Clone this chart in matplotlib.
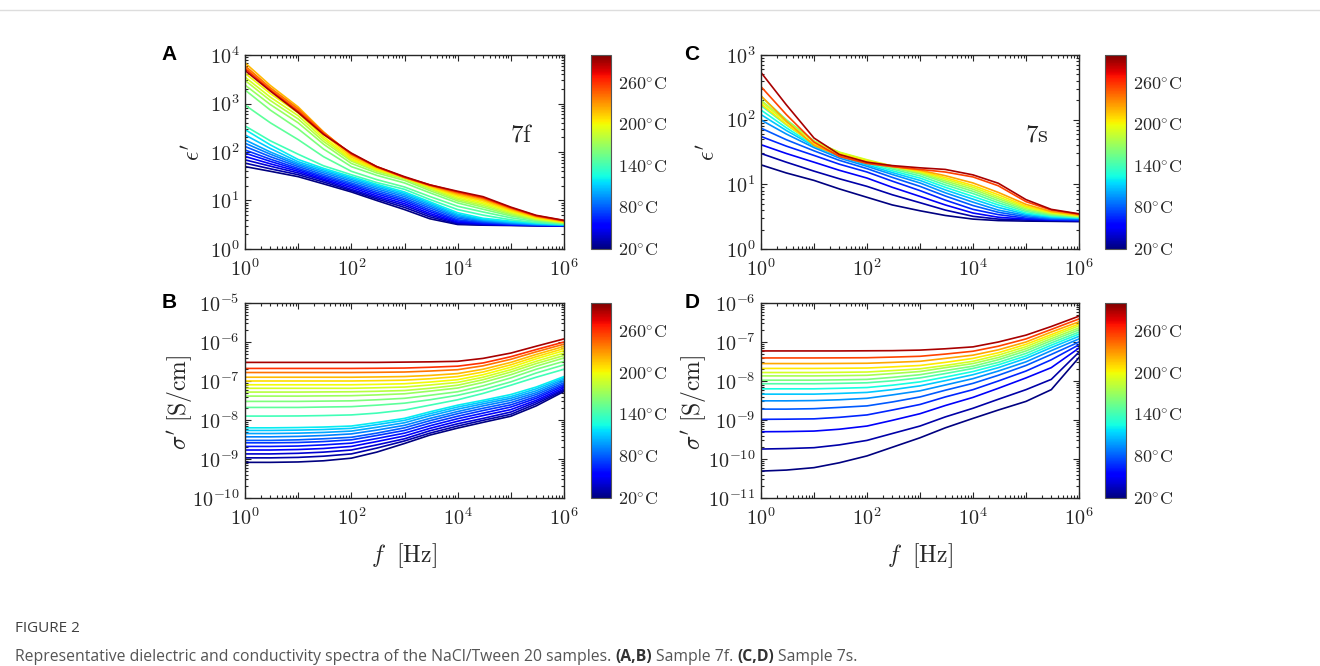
import numpy as np
import matplotlib
matplotlib.use('Agg')
import matplotlib.pyplot as plt
from matplotlib import colors
from matplotlib.ticker import FixedLocator, FixedFormatter, LogLocator, NullFormatter

plt.rcParams['mathtext.fontset'] = 'cm'
plt.rcParams['font.family'] = 'DejaVu Serif'

freq = [1, 3, 10, 30, 100, 300, 1e3, 3e3, 1e4, 3e4, 1e5, 3e5, 1e6]

# ---- sample 7f ----
temps_7f = [20, 30, 40, 50, 60, 70, 80, 90, 100, 110, 120,
            140, 150, 160, 170, 180, 190, 200, 210, 220, 240, 260, 290]

eps_7f = [
    [50, 40, 31, 22, 15, 10, 6.5, 4.2, 3.2, 3.1, 3.05, 3.0, 3.0],
    [59, 45, 34, 24, 16, 10.8, 7.2, 4.6, 3.3, 3.15, 3.1, 3.05, 3.0],
    [69, 51, 37, 26, 17, 11.6, 7.9, 5.0, 3.45, 3.2, 3.1, 3.05, 3.0],
    [81, 57, 40, 27.5, 18.5, 12.5, 8.6, 5.4, 3.6, 3.3, 3.15, 3.07, 3.02],
    [95, 64, 43, 29.5, 20, 13.6, 9.4, 5.9, 3.8, 3.4, 3.2, 3.1, 3.04],
    [110, 71, 46, 31.5, 21.5, 14.7, 10.2, 6.4, 4.0, 3.5, 3.25, 3.12, 3.06],
    [130, 80, 50, 34, 23, 16, 11, 7.0, 4.3, 3.65, 3.3, 3.15, 3.08],
    [152, 90, 54, 37, 25, 17.4, 12, 7.6, 4.6, 3.8, 3.4, 3.2, 3.1],
    [178, 100, 58, 40, 27, 18.8, 13, 8.2, 4.9, 3.95, 3.5, 3.25, 3.12],
    [225, 118, 63, 43, 29, 20.2, 14, 8.8, 5.2, 4.1, 3.6, 3.3, 3.15],
    [290, 140, 70, 46, 31, 21.6, 15, 9.4, 5.6, 4.3, 3.75, 3.4, 3.2],
    [345, 170, 90, 52, 34, 23.5, 17, 10.5, 6.5, 5.0, 4.0, 3.5, 3.25],
    [930, 400, 180, 80, 40, 27, 19, 12.1, 7.6, 5.8, 4.4, 3.7, 3.3],
    [1900, 730, 300, 115, 50, 33, 23, 14.4, 8.9, 6.6, 4.8, 3.9, 3.4],
    [2400, 950, 400, 145, 58, 37, 26, 16.0, 9.8, 7.3, 5.1, 4.0, 3.45],
    [3000, 1150, 480, 165, 65, 40, 28, 17.3, 10.5, 7.9, 5.4, 4.1, 3.5],
    [3500, 1350, 560, 185, 69, 42, 29, 18.2, 11.2, 8.5, 5.7, 4.25, 3.55],
    [4200, 1600, 640, 205, 72, 44, 30, 19, 12.0, 9.1, 6.0, 4.35, 3.6],
    [5800, 2050, 750, 235, 78, 46, 30, 19.5, 12.8, 9.8, 6.3, 4.5, 3.65],
    [6900, 2350, 850, 260, 85, 48, 30, 20, 13.5, 10.4, 6.6, 4.6, 3.7],
    [6000, 2100, 780, 255, 90, 49, 30, 20.5, 14.3, 11.0, 6.9, 4.75, 3.8],
    [5300, 1900, 700, 240, 92, 50, 30, 21, 15.0, 11.5, 7.1, 4.85, 3.85],
    [4800, 1800, 650, 230, 95, 50, 31, 21, 15.5, 12.0, 7.3, 4.95, 3.9],
]

sig_7f = [
    [8.2e-10, 8.2e-10, 8.4e-10, 9.0e-10, 1.05e-9, 1.5e-9, 2.5e-9, 4.1e-9, 6.2e-9, 8.7e-9, 1.25e-8, 2.3e-8, 5.4e-8],
    [1.07e-9, 1.07e-9, 1.1e-9, 1.18e-9, 1.35e-9, 1.9e-9, 2.9e-9, 4.6e-9, 7.0e-9, 9.8e-9, 1.4e-8, 2.6e-8, 5.8e-8],
    [1.35e-9, 1.35e-9, 1.4e-9, 1.5e-9, 1.7e-9, 2.3e-9, 3.3e-9, 5.3e-9, 8.0e-9, 1.1e-8, 1.6e-8, 2.9e-8, 6.2e-8],
    [1.7e-9, 1.7e-9, 1.75e-9, 1.86e-9, 2.1e-9, 2.8e-9, 3.9e-9, 6.1e-9, 9.3e-9, 1.3e-8, 1.85e-8, 3.2e-8, 6.8e-8],
    [2.1e-9, 2.1e-9, 2.15e-9, 2.3e-9, 2.55e-9, 3.35e-9, 4.6e-9, 7.1e-9, 1.08e-8, 1.5e-8, 2.15e-8, 3.6e-8, 7.5e-8],
    [2.6e-9, 2.6e-9, 2.65e-9, 2.8e-9, 3.1e-9, 4.0e-9, 5.4e-9, 8.3e-9, 1.25e-8, 1.75e-8, 2.45e-8, 4.0e-8, 8.2e-8],
    [3.0e-9, 3.0e-9, 3.1e-9, 3.3e-9, 3.6e-9, 4.6e-9, 6.3e-9, 9.6e-9, 1.45e-8, 2.0e-8, 2.8e-8, 4.5e-8, 9.0e-8],
    [3.7e-9, 3.7e-9, 3.8e-9, 4.0e-9, 4.4e-9, 5.5e-9, 7.3e-9, 1.1e-8, 1.65e-8, 2.3e-8, 3.2e-8, 5.0e-8, 1.0e-7],
    [4.5e-9, 4.5e-9, 4.6e-9, 4.8e-9, 5.2e-9, 6.5e-9, 8.5e-9, 1.28e-8, 1.9e-8, 2.6e-8, 3.6e-8, 5.6e-8, 1.1e-7],
    [5.4e-9, 5.4e-9, 5.5e-9, 5.7e-9, 6.1e-9, 7.6e-9, 9.8e-9, 1.45e-8, 2.15e-8, 2.9e-8, 4.0e-8, 6.3e-8, 1.2e-7],
    [6.3e-9, 6.3e-9, 6.4e-9, 6.6e-9, 7.0e-9, 8.6e-9, 1.1e-8, 1.62e-8, 2.4e-8, 3.2e-8, 4.5e-8, 7.0e-8, 1.3e-7],
    [1.26e-8, 1.26e-8, 1.27e-8, 1.3e-8, 1.35e-8, 1.5e-8, 1.8e-8, 2.4e-8, 3.3e-8, 4.8e-8, 7.8e-8, 1.25e-7, 2.0e-7],
    [2.1e-8, 2.1e-8, 2.1e-8, 2.15e-8, 2.2e-8, 2.4e-8, 2.7e-8, 3.3e-8, 4.3e-8, 6.0e-8, 9.5e-8, 1.6e-7, 2.6e-7],
    [3.0e-8, 3.0e-8, 3.0e-8, 3.05e-8, 3.1e-8, 3.3e-8, 3.6e-8, 4.3e-8, 5.3e-8, 7.5e-8, 1.2e-7, 2.0e-7, 3.2e-7],
    [4.1e-8, 4.1e-8, 4.1e-8, 4.15e-8, 4.2e-8, 4.4e-8, 4.7e-8, 5.5e-8, 6.6e-8, 9.2e-8, 1.45e-7, 2.4e-7, 3.9e-7],
    [5.2e-8, 5.2e-8, 5.2e-8, 5.25e-8, 5.3e-8, 5.45e-8, 5.7e-8, 6.5e-8, 7.8e-8, 1.08e-7, 1.7e-7, 2.8e-7, 4.5e-7],
    [6.5e-8, 6.5e-8, 6.5e-8, 6.5e-8, 6.5e-8, 6.7e-8, 7.0e-8, 7.9e-8, 9.2e-8, 1.25e-7, 1.95e-7, 3.2e-7, 5.2e-7],
    [8.0e-8, 8.0e-8, 8.0e-8, 8.0e-8, 8.0e-8, 8.2e-8, 8.5e-8, 9.4e-8, 1.08e-7, 1.45e-7, 2.25e-7, 3.7e-7, 6.0e-7],
    [1.0e-7, 1.0e-7, 1.0e-7, 1.0e-7, 1.0e-7, 1.02e-7, 1.05e-7, 1.14e-7, 1.3e-7, 1.7e-7, 2.6e-7, 4.2e-7, 6.8e-7],
    [1.25e-7, 1.25e-7, 1.25e-7, 1.25e-7, 1.25e-7, 1.27e-7, 1.3e-7, 1.39e-7, 1.55e-7, 2.0e-7, 3.0e-7, 4.8e-7, 7.7e-7],
    [1.65e-7, 1.65e-7, 1.65e-7, 1.65e-7, 1.65e-7, 1.67e-7, 1.7e-7, 1.8e-7, 1.95e-7, 2.45e-7, 3.6e-7, 5.6e-7, 8.8e-7],
    [2.1e-7, 2.1e-7, 2.1e-7, 2.1e-7, 2.1e-7, 2.12e-7, 2.15e-7, 2.25e-7, 2.4e-7, 2.9e-7, 4.2e-7, 6.4e-7, 1.0e-6],
    [3.0e-7, 3.0e-7, 3.0e-7, 3.0e-7, 3.0e-7, 3.0e-7, 3.05e-7, 3.1e-7, 3.2e-7, 3.8e-7, 5.2e-7, 7.8e-7, 1.2e-6],
]

# ---- sample 7s ----
temps_7s = [20, 30, 50, 65, 80, 95, 110, 125, 145, 160, 175, 190, 205, 225, 255, 290]

eps_7s = [
    [20, 15, 11.5, 8.5, 6.3, 4.8, 3.9, 3.3, 2.9, 2.75, 2.7, 2.68, 2.65],
    [30, 22, 16, 12.2, 9.3, 6.9, 5.2, 4.0, 3.2, 2.9, 2.8, 2.75, 2.7],
    [41, 30, 22, 16.5, 12.5, 9.0, 6.5, 4.8, 3.6, 3.1, 2.9, 2.8, 2.75],
    [55, 39, 28, 20.5, 15.5, 11.2, 8.0, 5.7, 4.1, 3.4, 3.0, 2.85, 2.8],
    [74, 49, 33, 23.5, 17.5, 12.8, 9.3, 6.6, 4.7, 3.7, 3.15, 2.9, 2.85],
    [99, 60, 37, 25.5, 19, 14.2, 10.5, 7.4, 5.3, 4.0, 3.3, 3.0, 2.95],
    [120, 68, 39, 27, 20, 15.2, 11.5, 8.2, 5.9, 4.4, 3.45, 3.1, 3.0],
    [141, 75, 40, 28, 21, 16.2, 12.5, 9.0, 6.5, 4.8, 3.6, 3.2, 3.05],
    [165, 83, 42, 29, 22, 17.2, 13.5, 9.8, 7.2, 5.2, 3.8, 3.3, 3.1],
    [228, 100, 47, 31, 23, 18, 14.5, 10.6, 7.8, 5.6, 4.0, 3.4, 3.15],
    [200, 95, 46, 31, 23.5, 18.6, 15, 11.3, 8.4, 6.0, 4.2, 3.5, 3.2],
    [190, 92, 46, 31.5, 24, 19.2, 15.5, 12.0, 9.0, 6.4, 4.4, 3.6, 3.25],
    [175, 85, 42, 30, 23, 19.2, 16, 12.7, 9.6, 6.9, 4.6, 3.7, 3.3],
    [234, 95, 40, 28, 22, 19, 16.5, 13.6, 10.5, 7.5, 4.9, 3.8, 3.35],
    [324, 120, 45, 27, 21, 18.8, 17, 15.5, 13, 9.5, 5.4, 4.0, 3.45],
    [537, 170, 52, 29, 22, 19.5, 18, 17, 14, 10.4, 5.8, 4.1, 3.5],
]

sig_7s = [
    [4.9e-11, 5.2e-11, 6.0e-11, 8.0e-11, 1.2e-10, 2.0e-10, 3.5e-10, 6.3e-10, 1.1e-9, 1.8e-9, 3.0e-9, 6.0e-9, 4.0e-8],
    [1.8e-10, 1.85e-10, 1.95e-10, 2.3e-10, 3.0e-10, 4.5e-10, 7.0e-10, 1.2e-9, 2.0e-9, 3.4e-9, 6.0e-9, 1.1e-8, 5.5e-8],
    [5.0e-10, 5.05e-10, 5.2e-10, 5.8e-10, 7.0e-10, 9.8e-10, 1.45e-9, 2.35e-9, 3.8e-9, 6.5e-9, 1.2e-8, 2.2e-8, 7.0e-8],
    [1.04e-9, 1.05e-9, 1.07e-9, 1.17e-9, 1.35e-9, 1.8e-9, 2.5e-9, 3.9e-9, 6.0e-9, 1.0e-8, 1.8e-8, 3.5e-8, 8.5e-8],
    [1.9e-9, 1.9e-9, 1.95e-9, 2.1e-9, 2.3e-9, 2.9e-9, 3.9e-9, 5.8e-9, 8.7e-9, 1.4e-8, 2.5e-8, 4.8e-8, 1.0e-7],
    [3.1e-9, 3.1e-9, 3.15e-9, 3.3e-9, 3.6e-9, 4.4e-9, 5.6e-9, 7.9e-9, 1.15e-8, 1.8e-8, 3.1e-8, 6.0e-8, 1.2e-7],
    [4.6e-9, 4.6e-9, 4.6e-9, 4.8e-9, 5.1e-9, 6.0e-9, 7.5e-9, 1.02e-8, 1.45e-8, 2.2e-8, 3.8e-8, 7.2e-8, 1.4e-7],
    [6.3e-9, 6.3e-9, 6.3e-9, 6.5e-9, 6.8e-9, 7.8e-9, 9.5e-9, 1.26e-8, 1.75e-8, 2.6e-8, 4.4e-8, 8.3e-8, 1.6e-7],
    [8.5e-9, 8.5e-9, 8.5e-9, 8.7e-9, 9.0e-9, 1.01e-8, 1.2e-8, 1.55e-8, 2.1e-8, 3.0e-8, 5.1e-8, 9.5e-8, 1.8e-7],
    [1.05e-8, 1.05e-8, 1.05e-8, 1.07e-8, 1.1e-8, 1.24e-8, 1.45e-8, 1.85e-8, 2.4e-8, 3.5e-8, 5.9e-8, 1.08e-7, 2.05e-7],
    [1.35e-8, 1.35e-8, 1.35e-8, 1.37e-8, 1.4e-8, 1.55e-8, 1.75e-8, 2.2e-8, 2.8e-8, 4.0e-8, 6.7e-8, 1.22e-7, 2.3e-7],
    [1.65e-8, 1.65e-8, 1.65e-8, 1.67e-8, 1.7e-8, 1.85e-8, 2.05e-8, 2.5e-8, 3.2e-8, 4.6e-8, 7.6e-8, 1.38e-7, 2.6e-7],
    [2.1e-8, 2.1e-8, 2.1e-8, 2.12e-8, 2.15e-8, 2.3e-8, 2.5e-8, 3.0e-8, 3.8e-8, 5.3e-8, 8.7e-8, 1.55e-7, 2.9e-7],
    [2.8e-8, 2.8e-8, 2.8e-8, 2.82e-8, 2.85e-8, 3.0e-8, 3.2e-8, 3.8e-8, 4.6e-8, 6.3e-8, 1.0e-7, 1.8e-7, 3.3e-7],
    [3.9e-8, 3.9e-8, 3.9e-8, 3.92e-8, 3.95e-8, 4.1e-8, 4.3e-8, 4.9e-8, 5.8e-8, 7.8e-8, 1.2e-7, 2.1e-7, 3.9e-7],
    [5.9e-8, 5.9e-8, 5.9e-8, 5.9e-8, 5.95e-8, 6.0e-8, 6.2e-8, 6.7e-8, 7.5e-8, 1.0e-7, 1.5e-7, 2.5e-7, 4.6e-7],
]

cbar_ticks = [20, 80, 140, 200, 260]

W, H = 1320, 666
fig = plt.figure(figsize=(W / 100, H / 100), dpi=100)
norm = colors.Normalize(vmin=20, vmax=300)
cmap = plt.get_cmap('jet')


def px_axes(left, top, right, bottom):
    return fig.add_axes([left / W, 1 - bottom / H, (right - left) / W, (bottom - top) / H])


def dec_labels(lo, hi, every=1):
    locs = [10.0 ** e for e in range(lo, hi + 1)]
    labs = [r'$10^{%d}$' % e if (e - lo) % every == 0 else '' for e in range(lo, hi + 1)]
    return locs, labs


def panel(box, cbox, temps, data, ylo, yhi):
    ax = px_axes(*box)
    for T, row in zip(temps, data):
        ax.plot(freq, row, color=cmap(norm(T)), lw=1.2)
    ax.set_xscale('log')
    ax.set_yscale('log')
    ax.set_xlim(1, 1e6)
    ax.set_ylim(10.0 ** ylo, 10.0 ** yhi)
    xl, xlab = dec_labels(0, 6, 2)
    ax.xaxis.set_major_locator(FixedLocator(xl))
    ax.xaxis.set_major_formatter(FixedFormatter(xlab))
    yl, ylab = dec_labels(ylo, yhi)
    ax.yaxis.set_major_locator(FixedLocator(yl))
    ax.yaxis.set_major_formatter(FixedFormatter(ylab))
    for a in (ax.xaxis, ax.yaxis):
        a.set_minor_locator(LogLocator(base=10, subs=np.arange(2, 10), numticks=20))
        a.set_minor_formatter(NullFormatter())
    ax.tick_params(which='both', direction='in', top=True, right=True,
                   labelsize=14.5, colors='#262626', width=0.8)
    ax.tick_params(which='major', length=4)
    ax.tick_params(which='minor', length=2)
    ax.tick_params(axis='x', pad=7)
    ax.tick_params(axis='y', pad=4)
    for s in ax.spines.values():
        s.set_color('#262626')
        s.set_linewidth(1.0)

    cax = px_axes(*cbox)
    sm = plt.cm.ScalarMappable(norm=norm, cmap=cmap)
    cb = fig.colorbar(sm, cax=cax)
    cb.set_ticks(cbar_ticks)
    cb.set_ticklabels([r'$%d^{\circ}\mathrm{C}$' % t for t in cbar_ticks])
    cb.ax.tick_params(length=0, labelsize=13, pad=5, colors='#262626')
    cb.outline.set_edgecolor('#555555')
    cb.outline.set_linewidth(0.8)
    return ax


axA = panel((245, 55, 564, 249), (591, 55, 611, 249), temps_7f, eps_7f, 0, 4)
axB = panel((245, 303, 564, 498), (591, 303, 611, 498), temps_7f, sig_7f, -10, -5)
axC = panel((761, 55, 1079, 249), (1105, 55, 1126, 249), temps_7s, eps_7s, 0, 3)
axD = panel((761, 303, 1079, 498), (1105, 303, 1126, 498), temps_7s, sig_7s, -11, -6)


def ftext(x, y, s, **kw):
    return fig.text(x / W, 1 - y / H, s, **kw)


# axis labels
ftext(193, 152, r"$\epsilon'$", fontsize=17, rotation=90, ha='center', va='center', color='#262626')
ftext(708, 152, r"$\epsilon'$", fontsize=17, rotation=90, ha='center', va='center', color='#262626')
ftext(180, 402, r"$\sigma'\ [\mathrm{S/cm}]$", fontsize=17, rotation=90, ha='center', va='center', color='#262626')
ftext(694, 402, r"$\sigma'\ [\mathrm{S/cm}]$", fontsize=17, rotation=90, ha='center', va='center', color='#262626')
ftext(404, 556, r"$f\ \ [\mathrm{Hz}]$", fontsize=17, ha='center', va='center', color='#262626')
ftext(920, 556, r"$f\ \ [\mathrm{Hz}]$", fontsize=17, ha='center', va='center', color='#262626')

# sample labels
ftext(522, 135, r'$\mathrm{7f}$', fontsize=18, ha='center', va='center', color='#262626')
ftext(1037, 135, r'$\mathrm{7s}$', fontsize=18, ha='center', va='center', color='#262626')

# panel letters
for letter, (x, y) in zip('ABCD', [(169, 54), (169, 302), (692, 54), (692, 302)]):
    ftext(x, y, letter, fontsize=15, fontweight='bold', family='Liberation Sans',
          ha='center', va='center', color='black')

# page frame line
fig.add_artist(plt.Line2D([0, 1], [1 - 10 / H, 1 - 10 / H], transform=fig.transFigure,
                          color='#dddddd', lw=1))

# caption
ftext(15, 629, 'FIGURE 2', fontsize=11, family='Open Sans', color='#404040',
      ha='left', va='center')

renderer = fig.canvas.get_renderer()
cap_size = 11.3


def width_of(s):
    t = fig.text(0, 0, s, fontsize=cap_size, family='Open Sans')
    w = t.get_window_extent(renderer=renderer).width
    t.remove()
    return w


space = width_of('a a') - width_of('aa')
runs = [('Representative dielectric and conductivity spectra of the NaCl/Tween 20 samples.', 'normal'),
        ('(A,B)', 'bold'), ('Sample 7f.', 'normal'), ('(C,D)', 'bold'), ('Sample 7s.', 'normal')]
x = 15
for s, wgt in runs:
    t = ftext(x, 657, s, fontsize=cap_size, family='Open Sans', fontweight=wgt,
              color='#555555' if wgt == 'normal' else '#333333', ha='left', va='center')
    x += t.get_window_extent(renderer=renderer).width + space

fig.savefig('out.png', dpi=100)
